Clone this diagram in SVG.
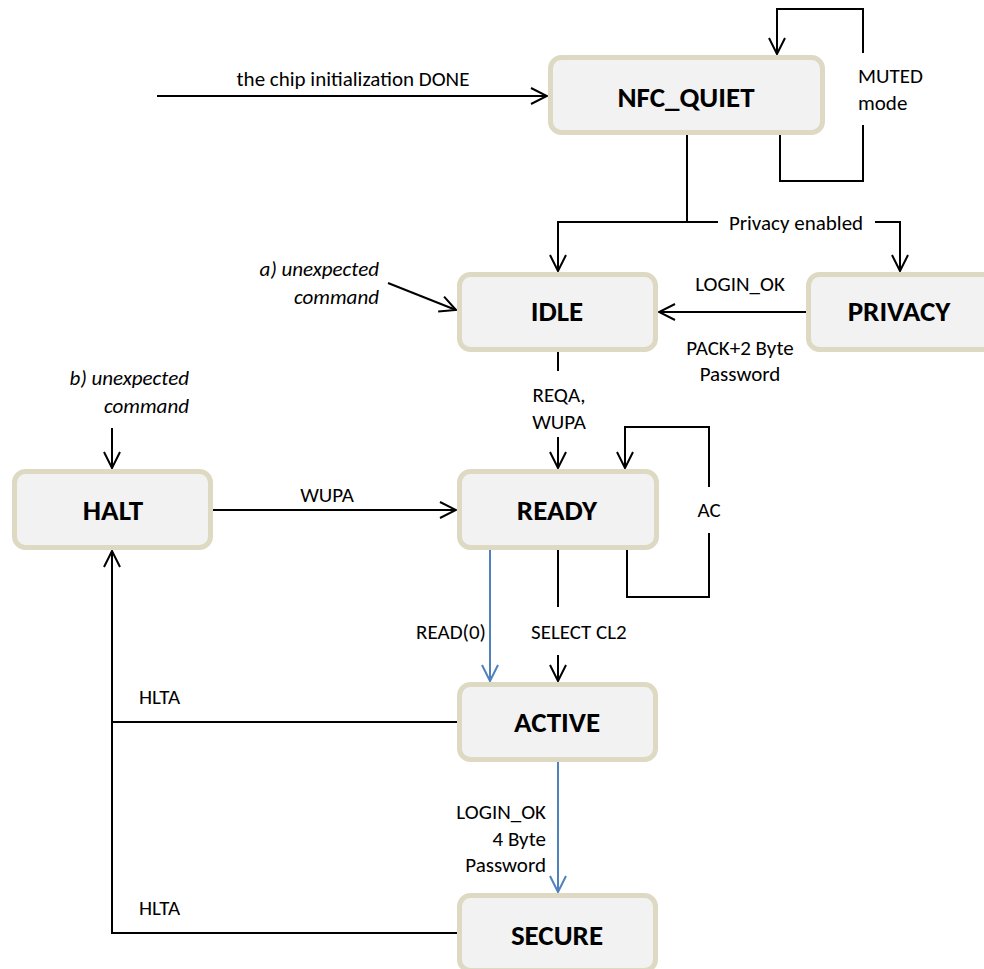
<svg xmlns="http://www.w3.org/2000/svg" width="984" height="969" viewBox="0 0 984 969">
<style>
.box{fill:#f2f2f2;stroke:#ddd9c3;stroke-width:5}
.t{font-family:Carlito,Lato,"Liberation Sans",sans-serif;font-size:21px;fill:#000}
.b{font-family:Carlito,Lato,"Liberation Sans",sans-serif;font-size:29px;font-weight:bold;fill:#000;text-anchor:middle}
.i{font-style:italic;text-anchor:end}
.m{text-anchor:middle}
.e{text-anchor:end}
.c{fill:none;stroke:#000;stroke-width:2}
.bl{fill:none;stroke:#4f81bd;stroke-width:2}
</style>
<defs>
<marker id="ah" markerUnits="userSpaceOnUse" markerWidth="20" markerHeight="20" viewBox="-18 -10 20 20" refX="0" refY="0" orient="auto">
<path d="M-16,-8 L0,0 L-16,8" fill="none" stroke="#000" stroke-width="2"/>
</marker>
<marker id="ahb" markerUnits="userSpaceOnUse" markerWidth="20" markerHeight="20" viewBox="-18 -10 20 20" refX="0" refY="0" orient="auto">
<path d="M-16,-8 L0,0 L-16,8" fill="none" stroke="#4f81bd" stroke-width="2"/>
</marker>
</defs>
<rect width="984" height="969" fill="#fff"/>
<g id="connectors">
<path class="c" d="M157,96 H547" marker-end="url(#ah)"/>
<path class="c" d="M388,283 L456,310" marker-end="url(#ah)"/>
<path class="c" d="M112,428 V468" marker-end="url(#ah)"/>
<path class="c" d="M687,135 V222 H558 V271" marker-end="url(#ah)"/>
<path class="c" d="M687,222 H718"/>
<path class="c" d="M875,222 H900 V271" marker-end="url(#ah)"/>
<path class="c" d="M780,135 V181 H863 V125"/>
<path class="c" d="M863,53 V9 H777 V54" marker-end="url(#ah)"/>
<path class="c" d="M806,312 H659" marker-end="url(#ah)"/>
<path class="c" d="M558,352 V371"/>
<path class="c" d="M558,437 V468" marker-end="url(#ah)"/>
<path class="c" d="M213,510 H456" marker-end="url(#ah)"/>
<path class="c" d="M627,550 V597 H709 V533"/>
<path class="c" d="M709,487 V427 H625 V468" marker-end="url(#ah)"/>
<path class="bl" d="M490,550 V681" marker-end="url(#ahb)"/>
<path class="c" d="M558,550 V607"/>
<path class="c" d="M558,655 V681" marker-end="url(#ah)"/>
<path class="c" d="M457,722 H112 V551" marker-end="url(#ah)"/>
<path class="c" d="M457,933 H112 V722"/>
<path class="bl" d="M558,762 V892" marker-end="url(#ahb)"/>
</g>
<g id="labels">
<text class="t m" x="353" y="86">the chip initialization DONE</text>
<text class="t" x="858" y="83">MUTED</text>
<text class="t" x="858" y="110">mode</text>
<text class="t m" x="796" y="230">Privacy enabled</text>
<text class="t m" x="740" y="291">LOGIN_OK</text>
<text class="t m" x="740" y="355">PACK+2 Byte</text>
<text class="t m" x="740" y="381">Password</text>
<text class="t i" x="379" y="276">a) unexpected</text>
<text class="t i" x="379" y="304">command</text>
<text class="t i" x="189" y="385">b) unexpected</text>
<text class="t i" x="189" y="413">command</text>
<text class="t m" x="559" y="402">REQA,</text>
<text class="t m" x="559" y="429">WUPA</text>
<text class="t m" x="327" y="502">WUPA</text>
<text class="t m" x="709" y="517">AC</text>
<text class="t e" x="486" y="639">READ(0)</text>
<text class="t" x="531" y="639">SELECT CL2</text>
<text class="t" x="139" y="704">HLTA</text>
<text class="t" x="139" y="915">HLTA</text>
<text class="t e" x="546" y="819">LOGIN_OK</text>
<text class="t e" x="546" y="846">4 Byte</text>
<text class="t e" x="546" y="872">Password</text>
</g>
<g id="NFC_QUIET"><rect class="box" x="550.5" y="57.5" width="272" height="75" rx="11"/><text class="b" x="686" y="107">NFC_QUIET</text></g>
<g id="IDLE"><rect class="box" x="459.5" y="274.5" width="196" height="75" rx="11"/><text class="b" x="557" y="321">IDLE</text></g>
<g id="PRIVACY"><rect class="box" x="808.5" y="274.5" width="196" height="75" rx="11"/><text class="b" x="899" y="321">PRIVACY</text></g>
<g id="HALT"><rect class="box" x="14.5" y="471.5" width="196" height="76" rx="11"/><text class="b" x="113" y="520">HALT</text></g>
<g id="READY"><rect class="box" x="459.5" y="471.5" width="197" height="76" rx="11"/><text class="b" x="557" y="520">READY</text></g>
<g id="ACTIVE"><rect class="box" x="459.5" y="684.5" width="196" height="75" rx="11"/><text class="b" x="557" y="732">ACTIVE</text></g>
<g id="SECURE"><rect class="box" x="459.5" y="895.5" width="196" height="75" rx="11"/><text class="b" x="557" y="945">SECURE</text></g>
</svg>
